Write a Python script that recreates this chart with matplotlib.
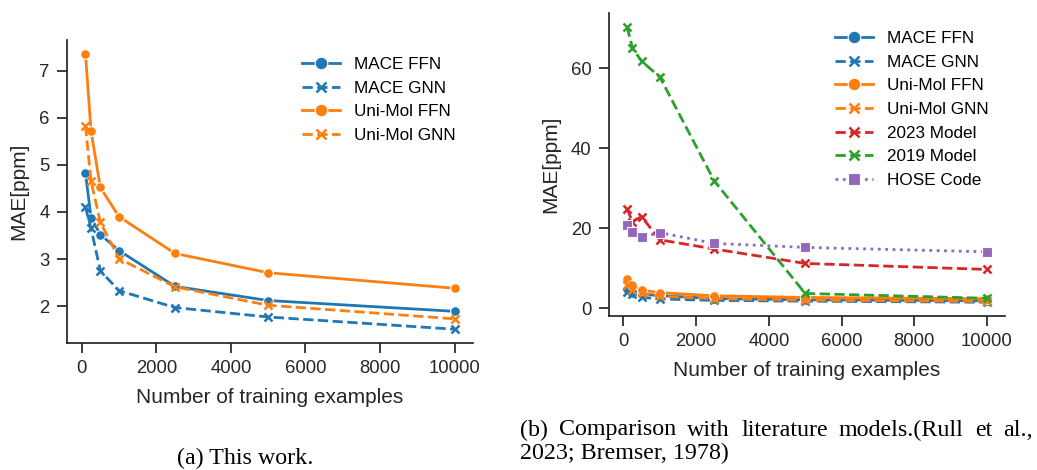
import numpy as np
import matplotlib.pyplot as plt

plt.rcParams['font.family'] = ['Liberation Sans', 'DejaVu Sans']
plt.rcParams['font.size'] = 13.5

n_train = [100, 250, 500, 1000, 2500, 5000, 10000]

mace_ffn = [4.83, 3.88, 3.52, 3.18, 2.42, 2.12, 1.89]
mace_gnn = [4.10, 3.65, 2.75, 2.33, 1.97, 1.77, 1.51]
unimol_ffn = [7.36, 5.72, 4.52, 3.90, 3.12, 2.71, 2.38]
unimol_gnn = [5.83, 4.65, 3.78, 3.01, 2.41, 2.02, 1.73]

model_2023 = [24.9, 21.6, 22.9, 17.1, 14.8, 11.2, 9.7]
model_2019 = [70.3, 65.0, 61.7, 57.8, 31.8, 3.7, 2.5]
hose_code = [20.8, 19.0, 17.7, 18.9, 16.2, 15.2, 14.1]

blue = '#1f77b4'
orange = '#ff7f0e'
red = '#d62728'
green = '#2ca02c'
purple = '#9467bd'
dark = '#262626'

ours = [
    ('MACE FFN', mace_ffn, blue, '-', 'o'),
    ('MACE GNN', mace_gnn, blue, '--', 'x'),
    ('Uni-Mol FFN', unimol_ffn, orange, '-', 'o'),
    ('Uni-Mol GNN', unimol_gnn, orange, '--', 'x'),
]
lit = [
    ('2023 Model', model_2023, red, '--', 'x'),
    ('2019 Model', model_2019, green, '--', 'x'),
    ('HOSE Code', hose_code, purple, ':', 's'),
]

W, H = 1037, 470
fig = plt.figure(figsize=(W / 100, H / 100), dpi=100)
ax1 = fig.add_axes([67 / W, 1 - 343 / H, 406 / W, 303 / H])
ax2 = fig.add_axes([609 / W, 1 - 316 / H, 396 / W, 303 / H])


def draw(ax, series):
    for name, vals, col, ls, mk in series:
        if mk == 'x':
            ax.plot(n_train, vals, color=col, ls=ls, lw=2, marker=mk, ms=6,
                    mew=1.8, label=name)
        else:
            ax.plot(n_train, vals, color=col, ls=ls, lw=2, marker=mk, ms=7,
                    mec='white', mew=0.8, label=name)


draw(ax1, ours)
draw(ax2, ours + lit)

for ax in (ax1, ax2):
    ax.set_xlabel('Number of training examples', color=dark, fontsize=15,
                  labelpad=8)
    ax.set_ylabel('MAE[ppm]', color=dark, fontsize=15, labelpad=8)
    ax.set_xticks([0, 2000, 4000, 6000, 8000, 10000])
    for s in ('top', 'right'):
        ax.spines[s].set_visible(False)
    for s in ('left', 'bottom'):
        ax.spines[s].set_color(dark)
        ax.spines[s].set_linewidth(1.25)
    ax.tick_params(colors=dark, width=1.25, length=7.5, pad=5, labelsize=13.3)

ax1.set_yticks([2, 3, 4, 5, 6, 7])
ax2.set_yticks([0, 20, 40, 60])

leg_kw = dict(frameon=False, loc='upper left', markerscale=1.3, fontsize=12.3,
              handlelength=2.2, handletextpad=0.8, borderpad=0.4,
              bbox_transform=fig.transFigure)
ax1.legend(bbox_to_anchor=(287 / W, 1 - 42 / H), **leg_kw)
ax2.legend(bbox_to_anchor=(820 / W, 1 - 16 / H), **leg_kw)

serif = dict(family='Liberation Serif', va='center', color='black',
             fontsize=17.3)
fig.text(245 / W, 1 - 458 / H, '(a) This work.', ha='center', **serif)

# justified first line of caption (b)
words = '(b) Comparison with literature models.(Rull et al.,'.split()
x0, x1 = 520, 1033
renderer = fig.canvas.get_renderer()
widths = []
for w in words:
    t = fig.text(0, 0, w, **serif)
    widths.append(t.get_window_extent(renderer).width)
    t.remove()
gap = (x1 - x0 - sum(widths)) / (len(words) - 1)
x = x0
for w, wd in zip(words, widths):
    fig.text(x / W, 1 - 430 / H, w, ha='left', **serif)
    x += wd + gap
fig.text(x0 / W, 1 - 453 / H, '2023; Bremser, 1978)', ha='left', **serif)

fig.savefig('out.png', dpi=100)
